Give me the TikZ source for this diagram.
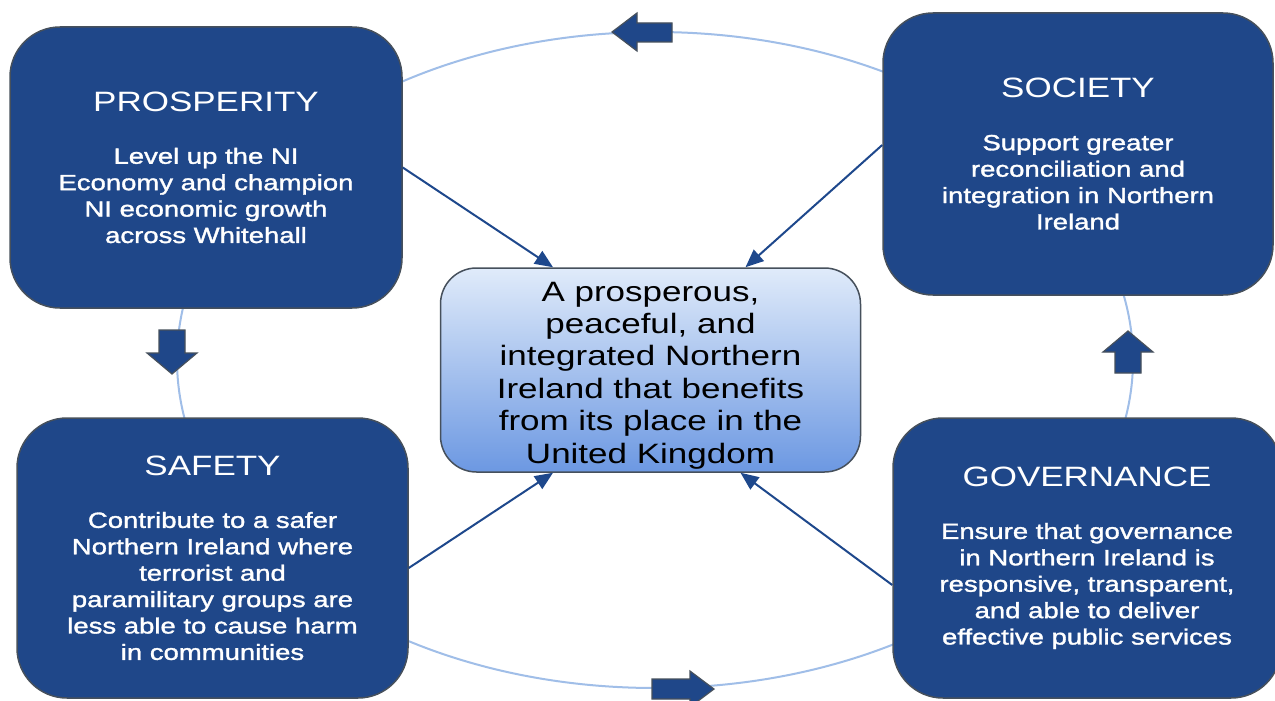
\documentclass[tikz,border=0pt]{standalone}
\usepackage{fontspec}
\setmainfont{Liberation Sans}[FakeStretch=1.25]
\newfontfamily\bodyfam{Liberation Sans}[FakeStretch=1.25, FakeBold=1.5]
\usetikzlibrary{arrows.meta}
\definecolor{boxblue}{RGB}{31,71,137}
\definecolor{boxedge}{RGB}{70,80,92}
\definecolor{ringblue}{RGB}{160,190,232}
\definecolor{ctop}{RGB}{224,235,250}
\definecolor{cbot}{RGB}{108,152,226}
\definecolor{arrowblue}{RGB}{30,72,140}
\tikzset{
  themebox/.style={draw=boxedge, line width=1.5pt, fill=boxblue, rounded corners=50pt,
    text=white, align=center, inner sep=0pt,
    font=\bodyfam\fontsize{22}{26.4}\selectfont},
  goalbox/.style={draw=boxedge, line width=1.5pt, rounded corners=36pt,
    top color=ctop, bottom color=cbot, text=black, align=center, inner sep=0pt,
    font=\fontsize{28}{32.4}\selectfont},
  conn/.style={draw=arrowblue, line width=2pt, -{Triangle[length=18pt,width=15pt]}},
  blockarrow/.style={fill=boxblue, draw=boxedge, line width=1.2pt, line join=miter},
  ring/.style={draw=ringblue, line width=2pt}
}
\newcommand{\ttl}[1]{{\rmfamily\fontsize{28}{32}\selectfont #1}}
\begin{document}
\begin{tikzpicture}[x=1pt,y=-1pt]
\useasboundingbox (0,0) rectangle (1275,701);
\clip (0,0) rectangle (1275,701);
\fill[white] (0,0) rectangle (1275,701);
% ring
\draw[ring] (655,360) ellipse [x radius=478pt, y radius=328pt];
% boxes
\node[themebox, minimum width=392pt, minimum height=281pt] (pros) at (206,167.5)
  {\ttl{PROSPERITY}\\[26pt]Level up the NI\\Economy and champion\\NI economic growth\\across Whitehall};
\node[themebox, minimum width=390pt, minimum height=282pt] (soc) at (1078,154)
  {\ttl{SOCIETY}\\[26pt]Support greater\\reconciliation and\\integration in Northern\\Ireland};
\node[themebox, minimum width=391pt, minimum height=280pt] (saf) at (212.5,558)
  {\ttl{SAFETY}\\[26pt]Contribute to a safer\\Northern Ireland where\\terrorist and\\paramilitary groups are\\less able to cause harm\\in communities};
\node[themebox, minimum width=388pt, minimum height=280pt] (gov) at (1087,558)
  {\ttl{GOVERNANCE}\\[26pt]Ensure that governance\\in Northern Ireland is\\responsive, transparent,\\and able to deliver\\effective public services};
\node[goalbox, minimum width=420pt, minimum height=204pt] (goal) at (650.5,370)
  {\rule{0pt}{30pt}A prosperous,\\peaceful, and\\integrated Northern\\Ireland that benefits\\from its place in the\\United Kingdom};
% connectors
\draw[conn] (pros.east) -- ([xshift=-97.5pt]goal.north);
\draw[conn] ([yshift=9pt]soc.west) -- ([xshift=95pt]goal.north);
\draw[conn] ([yshift=-10pt]saf.east) -- ([xshift=-97.5pt]goal.south);
\draw[conn] ([yshift=-27pt]gov.west) -- ([xshift=90pt]goal.south);
% block arrows on ring
\draw[blockarrow] (612,32) -- (637,13) -- (637,23) -- (672,23) -- (672,42) -- (637,42) -- (637,51) -- cycle;
\draw[blockarrow] (172,374) -- (147,353) -- (159,353) -- (159,330) -- (185,330) -- (185,353) -- (197,353) -- cycle;
\draw[blockarrow] (1128,331) -- (1153,352) -- (1141,352) -- (1141,373) -- (1115,373) -- (1115,352) -- (1103,352) -- cycle;
\draw[blockarrow] (714,689) -- (690,671) -- (690,679) -- (652,679) -- (652,699) -- (690,699) -- (690,707) -- cycle;
\end{tikzpicture}
\end{document}
